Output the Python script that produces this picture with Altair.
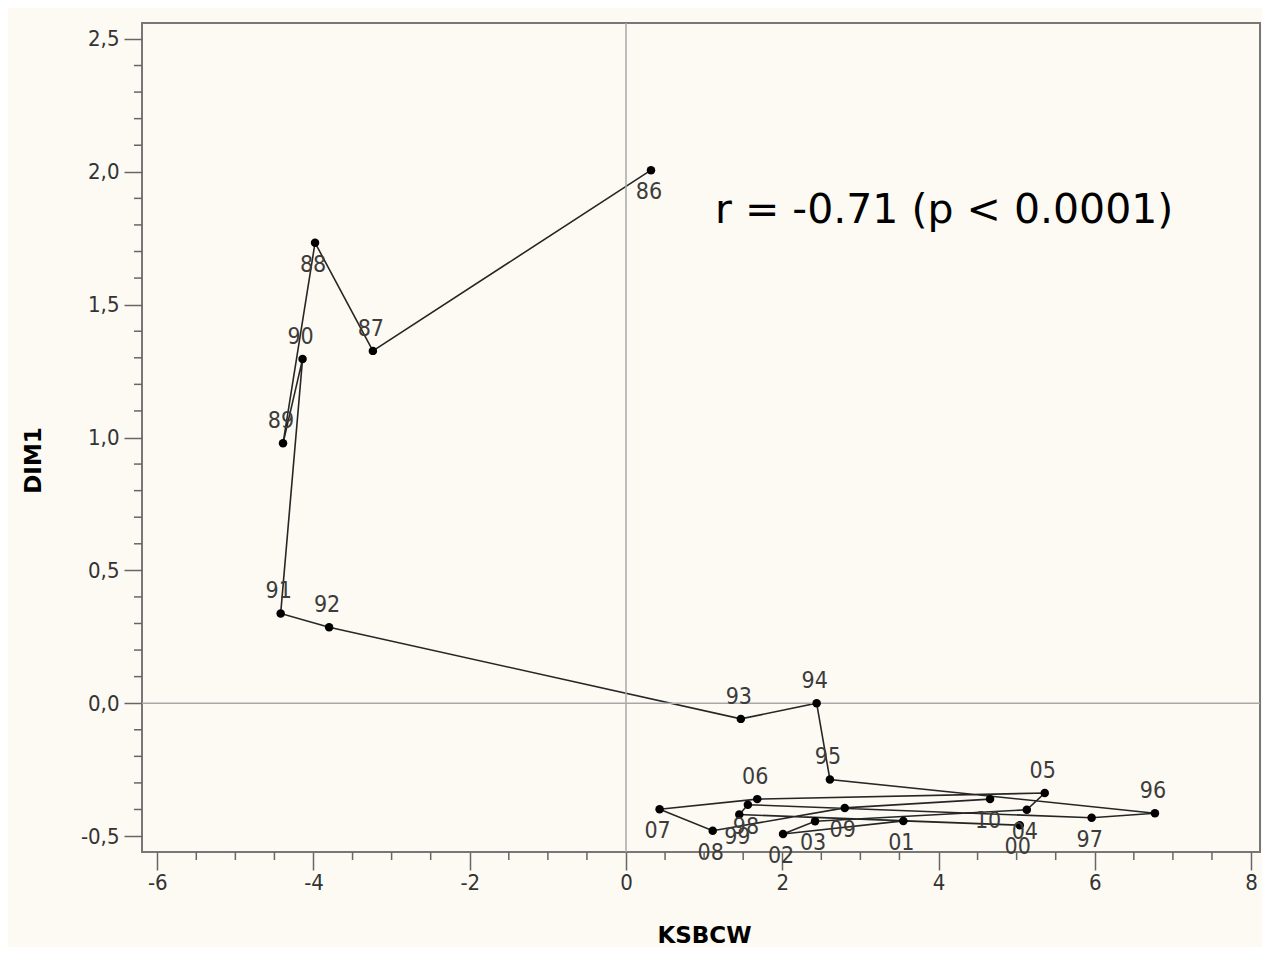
import altair as alt
import pandas as pd

# ---- data ----
years = ["86", "87", "88", "89", "90", "91", "92", "93", "94", "95", "96", "97", "98",
         "99", "00", "01", "02", "03", "04", "05", "06", "07", "08", "09", "10"]
ksbcw = [0.32, -3.24, -3.98, -4.39, -4.14, -4.42, -3.80, 1.47, 2.44, 2.61, 6.77, 5.96, 1.56,
         1.45, 5.04, 3.55, 2.01, 2.42, 5.13, 5.36, 1.68, 0.43, 1.11, 2.80, 4.66]
dim1 = [2.006, 1.326, 1.733, 0.978, 1.295, 0.338, 0.286, -0.059, 0.0, -0.287, -0.414, -0.431, -0.382,
        -0.419, -0.459, -0.443, -0.492, -0.444, -0.401, -0.338, -0.361, -0.399, -0.480, -0.394, -0.361]
label_side = ["below", "above", "below", "above", "above", "above", "above", "above", "above",
              "above", "above", "below", "below", "below", "below", "below", "below", "below",
              "below", "above", "above", "below", "below", "below", "below"]

x_major = [-6, -4, -2, 0, 2, 4, 6, 8]
x_minor = [-5.5, -5, -4.5, -3.5, -3, -2.5, -1.5, -1, -0.5, 0.5, 1, 1.5, 2.5, 3, 3.5,
           4.5, 5, 5.5, 6.5, 7, 7.5]
y_major = [-0.5, 0.0, 0.5, 1.0, 1.5, 2.0, 2.5]
y_minor = [-0.4, -0.3, -0.2, -0.1, 0.1, 0.2, 0.3, 0.4, 0.6, 0.7, 0.8, 0.9, 1.1, 1.2, 1.3, 1.4,
           1.6, 1.7, 1.8, 1.9, 2.1, 2.2, 2.3, 2.4]
ref_zero = [0]

annotation_text = ["r = -0.71 (p < 0.0001)"]
annotation_x = [1.14]
annotation_y = [1.807]

# ---- tables ----
df = pd.DataFrame({"year": years, "ksbcw": ksbcw, "dim1": dim1,
                   "order": list(range(len(years))), "side": label_side})
xminor_df = pd.DataFrame({"v": x_minor})
yminor_df = pd.DataFrame({"v": y_minor})
zero_df = pd.DataFrame({"v": ref_zero})
ann_df = pd.DataFrame({"t": annotation_text, "x": annotation_x, "y": annotation_y})

W, H = 1118, 829
LABEL_FONT = "Liberation Sans Narrow, DejaVu Sans Condensed, Liberation Sans, sans-serif"
TICK_COLOR = "#666666"

x_scale = alt.Scale(domain=[-6.195, 8.115], nice=False, zero=False)
y_scale = alt.Scale(domain=[-0.56, 2.56], nice=False, zero=False)

x_axis = alt.Axis(
    values=x_major, title="KSBCW", grid=False, domain=False,
    labelExpr="(datum.value < 0 ? '-' : '') + format(abs(datum.value), 'd')",
    tickSize=18, labelPadding=2, labelBaseline="top",
    labelFont=LABEL_FONT, labelFontSize=22, labelColor="#333333",
    titleX=562, titleY=83, titleBaseline="middle", titleAlign="center",
    titleFont="DejaVu Sans", titleFontWeight="bold", titleFontSize=23, titleColor="#000000",
)
y_axis = alt.Axis(
    values=y_major, title="DIM1", grid=False, domain=False,
    labelExpr="(datum.value < 0 ? '-' : '') + replace(format(abs(datum.value), '.1f'), '.', ',')",
    tickSize=18, labelPadding=5, labelBaseline="middle",
    labelFont=LABEL_FONT, labelFontSize=22, labelColor="#333333",
    titleX=-109, titleY=437, titleAngle=-90, titleBaseline="middle", titleAlign="center",
    titleFont="DejaVu Sans", titleFontWeight="bold", titleFontSize=23, titleColor="#000000",
)


def X(field):
    return alt.X(field, scale=x_scale, axis=x_axis)


def Y(field):
    return alt.Y(field, scale=y_scale, axis=y_axis)


line = alt.Chart(df).mark_line(color="#262626", strokeWidth=1.6).encode(
    x=X("ksbcw:Q"), y=Y("dim1:Q"), order="order:Q",
)
vzero = alt.Chart(zero_df).mark_rule(color="#a8a8a8", strokeWidth=1.5).encode(x=X("v:Q"))
hzero = alt.Chart(zero_df).mark_rule(color="#a8a8a8", strokeWidth=1.5).encode(y=Y("v:Q"))

xminor = alt.Chart(xminor_df).mark_rule(color=TICK_COLOR, strokeWidth=1.5).encode(
    x=X("v:Q"), y=alt.value(H), y2=alt.value(H + 8))
yminor = alt.Chart(yminor_df).mark_rule(color=TICK_COLOR, strokeWidth=1.5).encode(
    y=Y("v:Q"), x=alt.value(0), x2=alt.value(-8))

points = alt.Chart(df).mark_circle(color="#000000", opacity=1, size=72).encode(
    x=X("ksbcw:Q"), y=Y("dim1:Q"),
)
lab_common = dict(font=LABEL_FONT, fontSize=23, color="#3c3c3c", dx=-2, baseline="middle", align="center")
labels_above = alt.Chart(df).transform_filter("datum.side == 'above'").mark_text(dy=-22, **lab_common).encode(
    x=X("ksbcw:Q"), y=Y("dim1:Q"), text="year:N",
)
labels_below = alt.Chart(df).transform_filter("datum.side == 'below'").mark_text(dy=22, **lab_common).encode(
    x=X("ksbcw:Q"), y=Y("dim1:Q"), text="year:N",
)
annotation = alt.Chart(ann_df).mark_text(
    align="left", baseline="alphabetic", fontSize=41, font="DejaVu Sans", color="#000000"
).encode(
    x=X("x:Q"), y=Y("y:Q"), text="t:N",
)

chart = alt.layer(
    line, vzero, hzero, points, labels_above, labels_below, annotation, xminor, yminor
).properties(
    width=W, height=H,
    background="#fcfaf2",
    padding={"left": 134, "top": 15, "right": 2, "bottom": 95},
    autosize=alt.AutoSizeParams(type="none"),
).configure_view(
    stroke="#777777", strokeWidth=2,
).configure_axis(
    tickColor=TICK_COLOR, tickWidth=1.5,
)

chart.save("out.html", embed_options={"renderer": "svg", "actions": False})
